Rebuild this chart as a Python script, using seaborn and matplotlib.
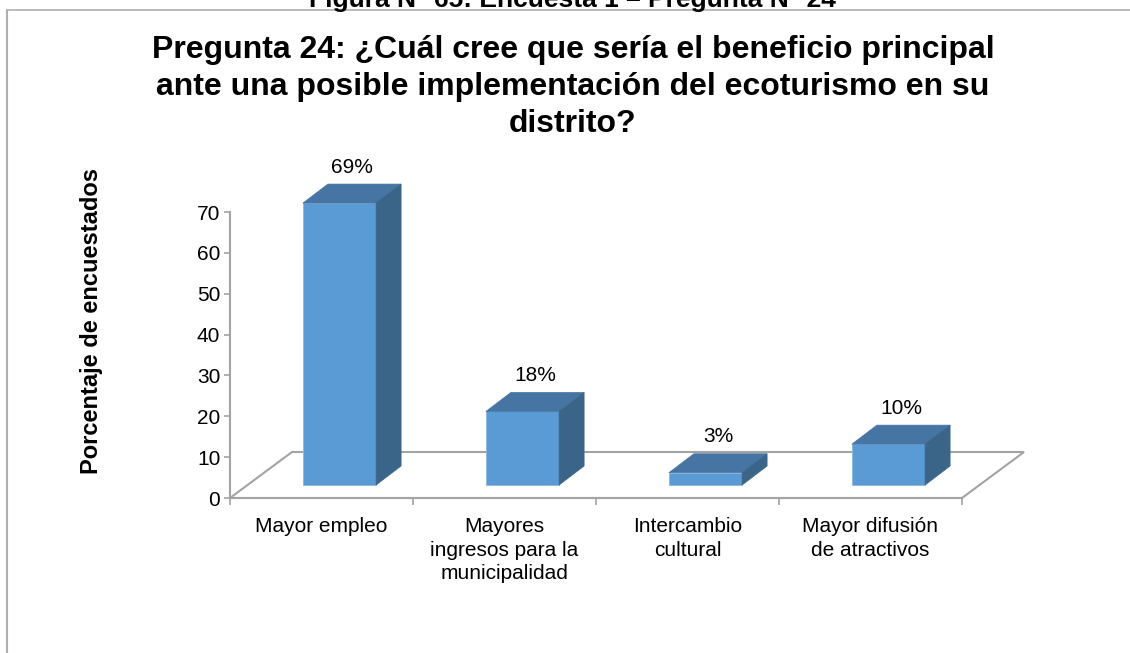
import matplotlib
matplotlib.use("Agg")
import matplotlib.pyplot as plt
from matplotlib.lines import Line2D
from matplotlib.patches import Polygon
import numpy as np
import pandas as pd
import seaborn as sns

# --- data ---
CATEGORIES = [
    "Mayor empleo",
    "Mayores\ningresos para la\nmunicipalidad",
    "Intercambio\ncultural",
    "Mayor difusión\nde atractivos",
]
VALUES = [69, 18, 3, 10]
VALUE_LABELS = ["69%", "18%", "3%", "10%"]
Y_TICKS = [0, 10, 20, 30, 40, 50, 60, 70]

HEADER = "Figura N° 65: Encuesta 1 – Pregunta N° 24"
TITLE = ("Pregunta 24: ¿Cuál cree que sería el beneficio principal\n"
         "ante una posible implementación del ecoturismo en su\n"
         "distrito?")
YLABEL = "Porcentaje de encuestados"

FRONT = "#5B9BD5"
TOP = "#4675A3"
SIDE = "#3B6489"
GREY = "#A3A3A3"

sns.set_theme(style="white")
plt.rcParams["font.family"] = ["Liberation Sans", "DejaVu Sans"]
plt.rcParams["text.color"] = "black"

W, H, DPI = 1130, 653, 100
fig = plt.figure(figsize=(W / DPI, H / DPI), dpi=DPI)
fig.patch.set_facecolor("white")

# plot area: front floor edge 230..962 px, value 0 at y=498 px, 70 at y=212 px
ax = fig.add_axes([230 / W, (H - 498) / H, 732 / W, 286 / H])
ax.set_facecolor("none")

PX_X = 732 / 4      # pixels per category
PX_Y = 286 / 70     # pixels per percent


def depth(dx_px, dy_px):
    return dx_px / PX_X, dy_px / PX_Y


FLOOR_DX, FLOOR_DY = depth(62, 46)
BAR_DX, BAR_DY = depth(18, 13)    # front face of bars sits inside the floor
SIDE_DX, SIDE_DY = depth(25, 19)  # bar depth

# floor
floor = Polygon([(-0.5, 0), (3.5, 0), (3.5 + FLOOR_DX, FLOOR_DY), (-0.5 + FLOOR_DX, FLOOR_DY)],
                closed=True, facecolor="white", edgecolor=GREY, linewidth=1.5,
                clip_on=False, zorder=0)
ax.add_patch(floor)

df = pd.DataFrame({"categoria": CATEGORIES, "valor": VALUES})
sns.barplot(data=df, x="categoria", y="valor", width=0.4, color=FRONT, saturation=1,
            edgecolor="#8DB6E0", linewidth=0.6, ax=ax, zorder=3)

bars = [p for p in ax.patches if p is not floor]
for bar, lab in zip(bars, VALUE_LABELS):
    bar.set_x(bar.get_x() + BAR_DX)
    bar.set_y(bar.get_y() + BAR_DY)
    bar.set_clip_on(False)
    x0, y0 = bar.get_x(), bar.get_y()
    x1, y1 = x0 + bar.get_width(), y0 + bar.get_height()
    top = Polygon([(x0, y1), (x1, y1), (x1 + SIDE_DX, y1 + SIDE_DY), (x0 + SIDE_DX, y1 + SIDE_DY)],
                  facecolor=TOP, edgecolor=TOP, linewidth=0.5, clip_on=False, zorder=3)
    side = Polygon([(x1, y0), (x1 + SIDE_DX, y0 + SIDE_DY), (x1 + SIDE_DX, y1 + SIDE_DY), (x1, y1)],
                   facecolor=SIDE, edgecolor=SIDE, linewidth=0.5, clip_on=False, zorder=3)
    ax.add_patch(top)
    ax.add_patch(side)
    ax.text((x0 + x1) / 2 + SIDE_DX / 2, y1 + SIDE_DY + 17 / PX_Y, lab,
            ha="center", va="center", fontsize=15, color="black")

ax.set_xlim(-0.5, 3.5)
ax.set_ylim(0, 70)
ax.set_yticks(Y_TICKS)
ax.set_xticks(np.arange(-0.5, 4, 1), labels=[])
ax.set_xticks(range(len(CATEGORIES)), labels=CATEGORIES, minor=True)
ax.set_xlabel("")
ax.set_ylabel("")
ax.tick_params(axis="y", direction="out", length=4, width=1.2, color=GREY,
               labelsize=15, labelcolor="black", pad=3, left=True)
ax.tick_params(axis="x", which="major", direction="out", length=5, width=1.2, color=GREY,
               bottom=True)
ax.tick_params(axis="x", which="minor", length=0, labelsize=15, labelcolor="black", pad=14)
for lbl in ax.get_xticklabels(minor=True):
    lbl.set_linespacing(1.3)
for name in ["top", "right"]:
    ax.spines[name].set_visible(False)
for name in ["left", "bottom"]:
    ax.spines[name].set_color(GREY)
    ax.spines[name].set_linewidth(1.5)

fig.text(92 / W, 1 - 321 / H, YLABEL, rotation=90, ha="center", va="center",
         fontsize=17, fontweight="bold", color="black")
fig.text(573 / W, 1 - 35 / H, TITLE, ha="center", va="top", fontsize=23,
         fontweight="bold", linespacing=1.3, color="black")
fig.text(572 / W, 1 - 7 / H, HEADER, ha="center", va="baseline", fontsize=19,
         fontweight="bold", color="black")

# chart area border (runs off the right and bottom edges)
fig.add_artist(Line2D([7 / W, 7 / W], [0, 1 - 10 / H], color="#B0B0B0", linewidth=1.5,
                      transform=fig.transFigure))
fig.add_artist(Line2D([7 / W, 1], [1 - 10 / H, 1 - 10 / H], color="#B0B0B0", linewidth=1.2,
                      transform=fig.transFigure))

fig.savefig("out.png", dpi=DPI)
